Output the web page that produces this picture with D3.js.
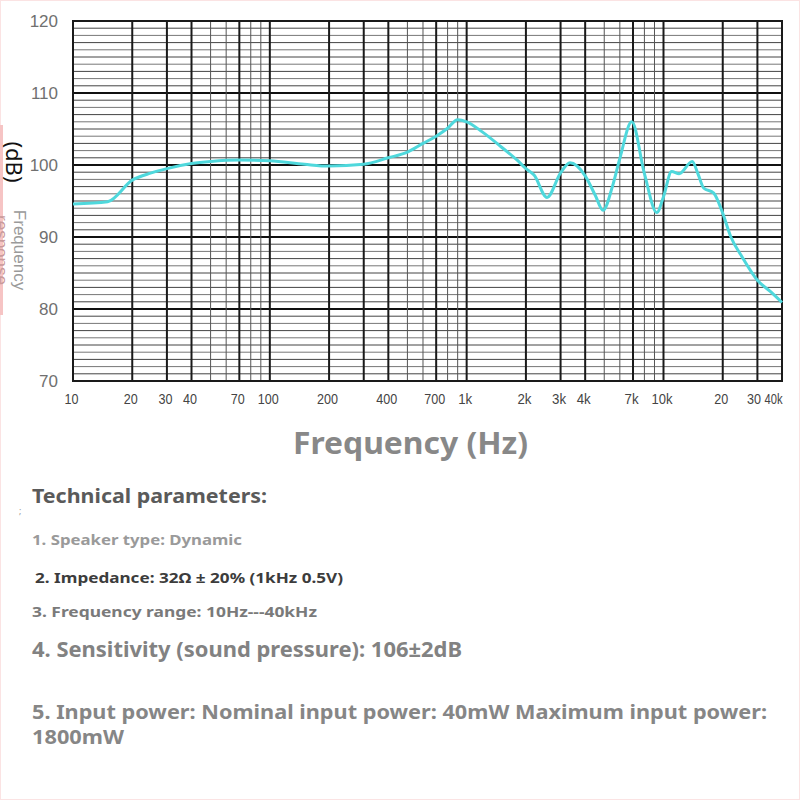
<!DOCTYPE html>
<html>
<head>
<meta charset="utf-8">
<script src="https://cdn.jsdelivr.net/npm/d3@7/dist/d3.min.js"></script>
<style>
  body { margin: 0; background: #fff; }
  text { font-family: "Noto Sans", "Open Sans", sans-serif; }
  .tick text { font-family: "Liberation Sans", Arial, sans-serif; }
</style>
</head>
<body>
<svg id="chart" width="800" height="800"></svg>
<script>
const freqs = [10, 15, 20, 25, 30, 40, 50, 70, 100, 150, 200, 300, 400, 500, 600, 700, 800, 900,
  1000, 1200, 1500, 1800, 2000, 2200, 2560, 3000, 3350, 4000, 4500, 4930, 5500, 6000, 6900,
  8000, 9250, 10000, 11000, 12000, 14000, 15000, 16000, 18000, 20000, 22000, 25000, 30000, 35000, 40000];
const levels = [94.6, 94.9, 97.9, 98.9, 99.5, 100.2, 100.5, 100.7, 100.6, 100.1, 99.85, 100.1, 101.0, 101.8, 103.0, 104.0, 105.1, 106.3,
  106.0, 104.6, 102.5, 100.7, 99.5, 98.6, 95.5, 98.9, 100.3, 98.5, 95.8, 93.7, 97.0, 100.9, 106.0,
  98.8, 93.4, 95.6, 99.1, 98.8, 100.5, 98.7, 96.8, 96.1, 93.3, 90.0, 87.3, 84.0, 82.4, 80.9];

const xTickValues = [10, 20, 30, 40, 70, 100, 200, 400, 700, 1000, 2000, 3000, 4000, 7000, 10000, 20000, 30000, 40000];
const xTickLabels = ["10", "20", "30", "40", "70", "100", "200", "400", "700", "1k", "2k", "3k", "4k", "7k", "10k", "20", "30", "40k"];
const yTickValues = [70, 80, 90, 100, 110, 120];
const heavyMultiples = [1, 2, 3, 4, 7];

const params = [
  {text: "Technical parameters:", y: 503, size: 20, color: "#5a5a5a", len: 235},
  {text: "1. Speaker type: Dynamic", y: 545, size: 15, color: "#9a9a9a", len: 210},
  {text: "2. Impedance: 32Ω ± 20% (1kHz 0.5V)", y: 583, size: 15, color: "#3c3c3c", len: 308, x: 35},
  {text: "3. Frequency range: 10Hz---40kHz", y: 617, size: 15, color: "#7a7a7a", len: 285},
  {text: "4. Sensitivity (sound pressure): 106±2dB", y: 657, size: 21, color: "#828282", len: 430},
  {text: "5. Input power: Nominal input power: 40mW Maximum input power:", y: 719, size: 20, color: "#868686", len: 735},
  {text: "1800mW", y: 744, size: 20, color: "#868686", len: 92}
];

const svg = d3.select("#chart");
const plotL = 73, plotR = 782, plotT = 21, plotB = 381;

const x = d3.scaleLog().domain([10, 40000]).range([plotL, plotR]);
const y = d3.scaleLinear().domain([70, 120]).range([plotB, plotT]);

// pink edge from the scan
svg.append("rect").attr("x", 0.5).attr("y", 0.5).attr("width", 799).attr("height", 799)
  .attr("fill", "none").attr("stroke", "#fbe3e3");
svg.append("rect").attr("x", 0).attr("y", 125).attr("width", 3).attr("height", 190).attr("fill", "#f6c4c4");

// grid
const grid = svg.append("g");
grid.selectAll("line.h")
  .data(d3.range(71, 120))
  .enter().append("line")
  .attr("class", "h")
  .attr("x1", plotL).attr("x2", plotR)
  .attr("y1", d => y(d)).attr("y2", d => y(d))
  .attr("stroke", d => d % 10 === 0 ? "#111" : (d % 2 ? "#444" : "#777"))
  .attr("stroke-width", d => d % 10 === 0 ? 2 : 1);

const vLines = [];
[10, 100, 1000, 10000].forEach(dec => {
  for (let m = 1; m <= 9; m++) {
    const f = dec * m;
    if (f > 10 && f < 40000) vLines.push({f, heavy: heavyMultiples.indexOf(m) !== -1});
  }
});
grid.selectAll("line.v")
  .data(vLines)
  .enter().append("line")
  .attr("class", "v")
  .attr("y1", plotT).attr("y2", plotB)
  .attr("x1", d => x(d.f)).attr("x2", d => x(d.f))
  .attr("stroke", d => d.heavy ? "#1a1a1a" : "#555")
  .attr("stroke-width", d => d.heavy ? 2 : 1);

svg.append("rect")
  .attr("x", plotL).attr("y", plotT)
  .attr("width", plotR - plotL).attr("height", plotB - plotT)
  .attr("fill", "none").attr("stroke", "#1a1a1a").attr("stroke-width", 2);

// curve
const line = d3.line()
  .x((d, i) => x(freqs[i]))
  .y(d => y(d))
  .curve(d3.curveMonotoneX);
svg.append("path")
  .datum(levels)
  .attr("d", line)
  .attr("fill", "none")
  .attr("stroke", "#4fd8dc")
  .attr("stroke-width", 3)
  .attr("stroke-linejoin", "round");

// axes (the scan uses a narrow face for the frequency labels)
const last = xTickValues.length - 1;
const xAxis = svg.append("g")
  .attr("transform", `translate(0,${plotB})`)
  .call(d3.axisBottom(x).tickValues(xTickValues).tickFormat((d, i) => xTickLabels[i]).tickSize(0));
xAxis.select(".domain").remove();
xAxis.selectAll("text")
  .attr("y", 23).attr("dy", 0)
  .attr("font-size", 15).attr("fill", "#444")
  .attr("text-anchor", (d, i) => i === last ? "end" : "middle")
  .attr("dx", (d, i) => i === last ? 0 : (i === last - 1 ? -4 : -2))
  .attr("textLength", (d, i) => i === last ? 18 : xTickLabels[i].length * 7)
  .attr("lengthAdjust", "spacingAndGlyphs");

const yAxis = svg.append("g")
  .attr("transform", `translate(${plotL},0)`)
  .call(d3.axisLeft(y).tickValues(yTickValues).tickSize(0).tickPadding(15));
yAxis.select(".domain").remove();
yAxis.selectAll("text")
  .attr("font-size", 17).attr("fill", "#707070");

// titles
svg.append("text")
  .attr("x", 293).attr("y", 454)
  .attr("font-size", 30).attr("font-weight", "bold").attr("fill", "#888")
  .attr("textLength", 235).attr("lengthAdjust", "spacingAndGlyphs")
  .text("Frequency (Hz)");

svg.append("text")
  .attr("transform", "translate(6,162) rotate(90)")
  .attr("text-anchor", "middle")
  .attr("font-size", 22).attr("fill", "#111")
  .text("(dB)");
svg.append("text")
  .attr("transform", "translate(14,250) rotate(90)")
  .attr("text-anchor", "middle")
  .attr("font-size", 17).attr("fill", "#9a9a9a")
  .style("font-family", "'Liberation Sans', Arial, sans-serif")
  .text("Frequency");
svg.append("text")
  .attr("transform", "translate(-4,250) rotate(90)")
  .attr("text-anchor", "middle")
  .attr("font-size", 17).attr("fill", "#c89a9a")
  .style("font-family", "'Liberation Sans', Arial, sans-serif")
  .text("response");

// technical parameters
svg.selectAll("text.param")
  .data(params)
  .enter().append("text")
  .attr("class", "param")
  .attr("x", d => d.x || 32)
  .attr("y", d => d.y)
  .attr("font-size", d => d.size)
  .attr("font-weight", "bold")
  .attr("fill", d => d.color)
  .attr("textLength", d => d.len)
  .attr("lengthAdjust", "spacingAndGlyphs")
  .text(d => d.text);

svg.append("text").attr("x", 19).attr("y", 514).attr("font-size", 9).attr("fill", "#999").text(";");
</script>
</body>
</html>
